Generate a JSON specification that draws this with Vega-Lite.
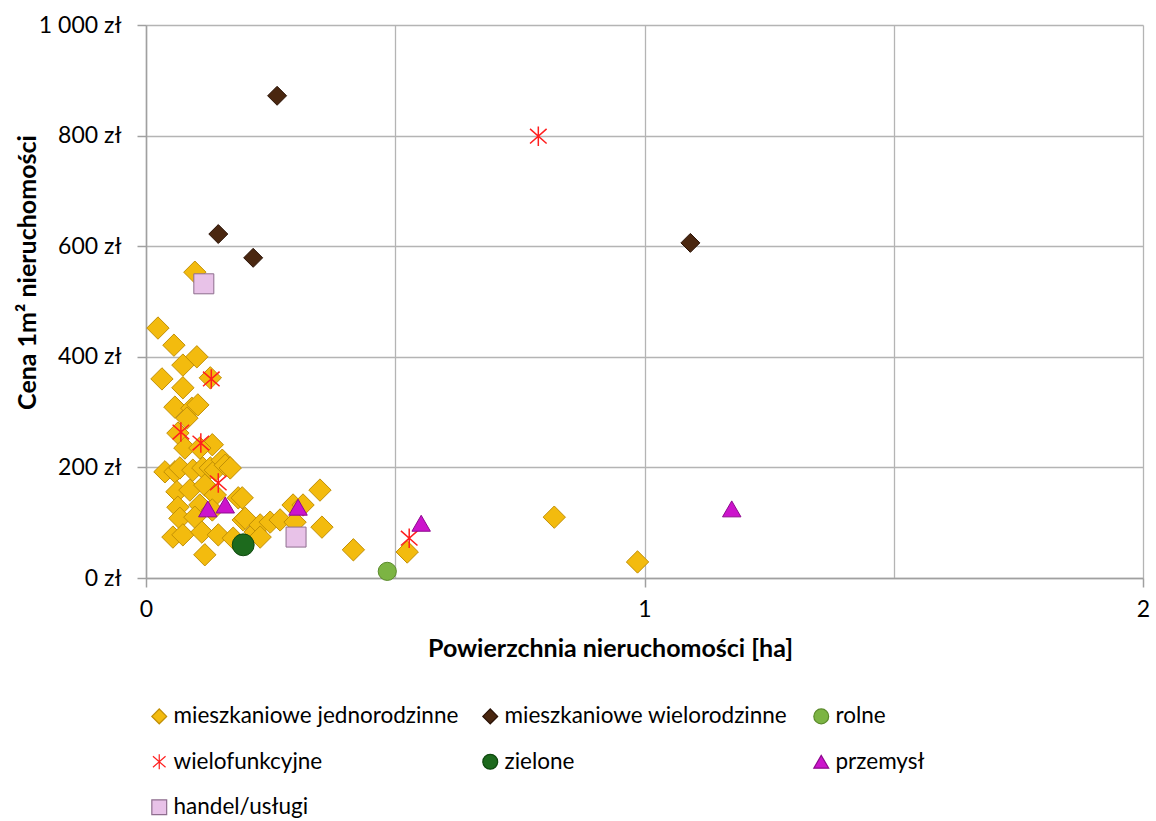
{
  "$schema": "https://vega.github.io/schema/vega-lite/v6.json",
  "autosize": "none",
  "width": 997,
  "height": 553,
  "padding": {"left": 146, "top": 25, "right": 13, "bottom": 243},
  "background": "white",
  "config": {
    "font": "Lato",
    "view": {"stroke": null},
    "legend": {
      "title": null,
      "orient": "none",
      "legendX": 2,
      "legendY": 680,
      "columns": 3,
      "direction": "horizontal",
      "gridAlign": "all",
      "columnPadding": 20,
      "rowPadding": 22.5,
      "labelFont": "Lato",
      "labelFontSize": 22.5,
      "labelColor": "#000000",
      "labelOffset": 3,
      "symbolSize": 220,
      "symbolStrokeWidth": 1.2,
      "labelLimit": 400
    }
  },
  "data": {
    "values": [
      {"powierzchnia": 0.024, "cena": 452, "typ": "mieszkaniowe jednorodzinne"},
      {"powierzchnia": 0.056, "cena": 421, "typ": "mieszkaniowe jednorodzinne"},
      {"powierzchnia": 0.098, "cena": 553, "typ": "mieszkaniowe jednorodzinne"},
      {"powierzchnia": 0.032, "cena": 360, "typ": "mieszkaniowe jednorodzinne"},
      {"powierzchnia": 0.074, "cena": 385, "typ": "mieszkaniowe jednorodzinne"},
      {"powierzchnia": 0.102, "cena": 400, "typ": "mieszkaniowe jednorodzinne"},
      {"powierzchnia": 0.074, "cena": 344, "typ": "mieszkaniowe jednorodzinne"},
      {"powierzchnia": 0.129, "cena": 362, "typ": "mieszkaniowe jednorodzinne"},
      {"powierzchnia": 0.058, "cena": 309, "typ": "mieszkaniowe jednorodzinne"},
      {"powierzchnia": 0.092, "cena": 307, "typ": "mieszkaniowe jednorodzinne"},
      {"powierzchnia": 0.104, "cena": 313, "typ": "mieszkaniowe jednorodzinne"},
      {"powierzchnia": 0.082, "cena": 289, "typ": "mieszkaniowe jednorodzinne"},
      {"powierzchnia": 0.064, "cena": 262, "typ": "mieszkaniowe jednorodzinne"},
      {"powierzchnia": 0.078, "cena": 235, "typ": "mieszkaniowe jednorodzinne"},
      {"powierzchnia": 0.133, "cena": 241, "typ": "mieszkaniowe jednorodzinne"},
      {"powierzchnia": 0.108, "cena": 235, "typ": "mieszkaniowe jednorodzinne"},
      {"powierzchnia": 0.038, "cena": 192, "typ": "mieszkaniowe jednorodzinne"},
      {"powierzchnia": 0.058, "cena": 192, "typ": "mieszkaniowe jednorodzinne"},
      {"powierzchnia": 0.068, "cena": 199, "typ": "mieszkaniowe jednorodzinne"},
      {"powierzchnia": 0.094, "cena": 195, "typ": "mieszkaniowe jednorodzinne"},
      {"powierzchnia": 0.114, "cena": 199, "typ": "mieszkaniowe jednorodzinne"},
      {"powierzchnia": 0.129, "cena": 199, "typ": "mieszkaniowe jednorodzinne"},
      {"powierzchnia": 0.139, "cena": 195, "typ": "mieszkaniowe jednorodzinne"},
      {"powierzchnia": 0.153, "cena": 213, "typ": "mieszkaniowe jednorodzinne"},
      {"powierzchnia": 0.159, "cena": 204, "typ": "mieszkaniowe jednorodzinne"},
      {"powierzchnia": 0.169, "cena": 199, "typ": "mieszkaniowe jednorodzinne"},
      {"powierzchnia": 0.062, "cena": 156, "typ": "mieszkaniowe jednorodzinne"},
      {"powierzchnia": 0.088, "cena": 159, "typ": "mieszkaniowe jednorodzinne"},
      {"powierzchnia": 0.118, "cena": 168, "typ": "mieszkaniowe jednorodzinne"},
      {"powierzchnia": 0.185, "cena": 145, "typ": "mieszkaniowe jednorodzinne"},
      {"powierzchnia": 0.064, "cena": 128, "typ": "mieszkaniowe jednorodzinne"},
      {"powierzchnia": 0.108, "cena": 132, "typ": "mieszkaniowe jednorodzinne"},
      {"powierzchnia": 0.068, "cena": 108, "typ": "mieszkaniowe jednorodzinne"},
      {"powierzchnia": 0.098, "cena": 110, "typ": "mieszkaniowe jednorodzinne"},
      {"powierzchnia": 0.054, "cena": 74, "typ": "mieszkaniowe jednorodzinne"},
      {"powierzchnia": 0.074, "cena": 78, "typ": "mieszkaniowe jednorodzinne"},
      {"powierzchnia": 0.112, "cena": 83, "typ": "mieszkaniowe jednorodzinne"},
      {"powierzchnia": 0.145, "cena": 78, "typ": "mieszkaniowe jednorodzinne"},
      {"powierzchnia": 0.175, "cena": 72, "typ": "mieszkaniowe jednorodzinne"},
      {"powierzchnia": 0.195, "cena": 105, "typ": "mieszkaniowe jednorodzinne"},
      {"powierzchnia": 0.118, "cena": 42, "typ": "mieszkaniowe jednorodzinne"},
      {"powierzchnia": 0.219, "cena": 83, "typ": "mieszkaniowe jednorodzinne"},
      {"powierzchnia": 0.193, "cena": 145, "typ": "mieszkaniowe jednorodzinne"},
      {"powierzchnia": 0.199, "cena": 108, "typ": "mieszkaniowe jednorodzinne"},
      {"powierzchnia": 0.229, "cena": 96, "typ": "mieszkaniowe jednorodzinne"},
      {"powierzchnia": 0.249, "cena": 101, "typ": "mieszkaniowe jednorodzinne"},
      {"powierzchnia": 0.269, "cena": 105, "typ": "mieszkaniowe jednorodzinne"},
      {"powierzchnia": 0.229, "cena": 74, "typ": "mieszkaniowe jednorodzinne"},
      {"powierzchnia": 0.295, "cena": 132, "typ": "mieszkaniowe jednorodzinne"},
      {"powierzchnia": 0.315, "cena": 132, "typ": "mieszkaniowe jednorodzinne"},
      {"powierzchnia": 0.299, "cena": 101, "typ": "mieszkaniowe jednorodzinne"},
      {"powierzchnia": 0.349, "cena": 159, "typ": "mieszkaniowe jednorodzinne"},
      {"powierzchnia": 0.353, "cena": 92, "typ": "mieszkaniowe jednorodzinne"},
      {"powierzchnia": 0.416, "cena": 51, "typ": "mieszkaniowe jednorodzinne"},
      {"powierzchnia": 0.524, "cena": 47, "typ": "mieszkaniowe jednorodzinne"},
      {"powierzchnia": 0.819, "cena": 110, "typ": "mieszkaniowe jednorodzinne"},
      {"powierzchnia": 0.986, "cena": 29, "typ": "mieszkaniowe jednorodzinne"},
      {"powierzchnia": 0.139, "cena": 150, "typ": "mieszkaniowe jednorodzinne"},
      {"powierzchnia": 0.133, "cena": 123, "typ": "mieszkaniowe jednorodzinne"},
      {"powierzchnia": 0.263, "cena": 872, "typ": "mieszkaniowe wielorodzinne"},
      {"powierzchnia": 0.145, "cena": 622, "typ": "mieszkaniowe wielorodzinne"},
      {"powierzchnia": 0.215, "cena": 579, "typ": "mieszkaniowe wielorodzinne"},
      {"powierzchnia": 1.092, "cena": 606, "typ": "mieszkaniowe wielorodzinne"},
      {"powierzchnia": 0.484, "cena": 12, "typ": "rolne"},
      {"powierzchnia": 0.787, "cena": 799, "typ": "wielofunkcyjne"},
      {"powierzchnia": 0.131, "cena": 360, "typ": "wielofunkcyjne"},
      {"powierzchnia": 0.070, "cena": 264, "typ": "wielofunkcyjne"},
      {"powierzchnia": 0.110, "cena": 244, "typ": "wielofunkcyjne"},
      {"powierzchnia": 0.145, "cena": 172, "typ": "wielofunkcyjne"},
      {"powierzchnia": 0.528, "cena": 72, "typ": "wielofunkcyjne"},
      {"powierzchnia": 0.195, "cena": 60, "typ": "zielone"},
      {"powierzchnia": 0.124, "cena": 125, "typ": "przemysł"},
      {"powierzchnia": 0.159, "cena": 132, "typ": "przemysł"},
      {"powierzchnia": 0.305, "cena": 128, "typ": "przemysł"},
      {"powierzchnia": 0.552, "cena": 99, "typ": "przemysł"},
      {"powierzchnia": 1.175, "cena": 125, "typ": "przemysł"},
      {"powierzchnia": 0.116, "cena": 532, "typ": "handel/usługi"},
      {"powierzchnia": 0.301, "cena": 74, "typ": "handel/usługi"}
    ]
  },
  "encoding": {
    "x": {
      "field": "powierzchnia",
      "type": "quantitative",
      "scale": {"domain": [0, 2], "nice": false, "zero": false},
      "axis": {
        "values": [0, 0.5, 1, 1.5, 2],
        "title": "Powierzchnia nieruchomości [ha]",
        "titleFont": "Lato",
        "titleFontSize": 25,
        "titleFontWeight": "bold",
        "titleColor": "#000000",
        "titleX": 464,
        "titleY": 70,
        "titleBaseline": "middle",
        "titleAlign": "center",
        "labelFont": "Lato",
        "labelFontSize": 23,
        "labelColor": "#000000",
        "labelPadding": 11,
        "labelExpr": "datum.value % 1 == 0 ? format(datum.value, 'd') : ''",
        "labelFlush": false,
        "labelOverlap": false,
        "tickSize": 9,
        "tickColor": "#a0a0a0",
        "tickWidth": 1.5,
        "tickOpacity": {"condition": {"test": "datum.value % 1 != 0", "value": 0}, "value": 1},
        "domainColor": "#a0a0a0",
        "domainWidth": 1.5,
        "grid": true,
        "gridColor": "#b4b4b4",
        "gridWidth": 1.3
      }
    },
    "y": {
      "field": "cena",
      "type": "quantitative",
      "scale": {"domain": [0, 1000], "nice": false},
      "axis": {
        "values": [0, 200, 400, 600, 800, 1000],
        "title": "Cena 1m² nieruchomości",
        "titleFont": "Lato",
        "titleFontSize": 25,
        "titleFontWeight": "bold",
        "titleColor": "#000000",
        "titleAngle": -90,
        "titleX": -119,
        "titleY": 247,
        "titleAlign": "center",
        "titleBaseline": "middle",
        "labelFont": "Lato",
        "labelFontSize": 23,
        "labelColor": "#000000",
        "labelPadding": 16,
        "labelExpr": "replace(format(datum.value, ','), ',', ' ') + ' zł'",
        "tickSize": 9,
        "tickColor": "#a0a0a0",
        "tickWidth": 1.5,
        "domainColor": "#a0a0a0",
        "domainWidth": 1.5,
        "grid": true,
        "gridColor": "#b4b4b4",
        "gridWidth": 1.3
      }
    },
    "fill": {
      "field": "typ",
      "type": "nominal",
      "scale": {
        "domain": ["mieszkaniowe jednorodzinne", "mieszkaniowe wielorodzinne", "rolne", "wielofunkcyjne", "zielone", "przemysł", "handel/usługi"],
        "range": ["#F3BB0E", "#4A2710", "#7CB443", "#FF1E1E", "#1D6A1D", "#CC14CC", "#E8C2E8"]
      }
    },
    "stroke": {
      "field": "typ",
      "type": "nominal",
      "scale": {
        "domain": ["mieszkaniowe jednorodzinne", "mieszkaniowe wielorodzinne", "rolne", "wielofunkcyjne", "zielone", "przemysł", "handel/usługi"],
        "range": ["#C18F06", "#2A1206", "#5A8A2A", "#FF1E1E", "#0F4A0F", "#8E0A8E", "#8E6E8E"]
      }
    },
    "shape": {
      "field": "typ",
      "type": "nominal",
      "scale": {
        "domain": ["mieszkaniowe jednorodzinne", "mieszkaniowe wielorodzinne", "rolne", "wielofunkcyjne", "zielone", "przemysł", "handel/usługi"],
        "range": ["diamond", "diamond", "circle", "M0,-1L0,1M-0.85,-0.75L0.85,0.75M-0.85,0.75L0.85,-0.75", "circle", "triangle-up", "square"]
      }
    }
  },
  "layer": [
    {"transform": [{"filter": "datum.typ == 'mieszkaniowe jednorodzinne'"}], "mark": {"type": "point", "filled": true, "strokeWidth": 1, "opacity": 1, "size": 500}},
    {"transform": [{"filter": "datum.typ == 'mieszkaniowe wielorodzinne'"}], "mark": {"type": "point", "filled": true, "strokeWidth": 1, "opacity": 1, "size": 360}},
    {"transform": [{"filter": "datum.typ == 'rolne'"}], "mark": {"type": "point", "filled": true, "strokeWidth": 1, "opacity": 1, "size": 330}},
    {"transform": [{"filter": "datum.typ == 'wielofunkcyjne'"}], "mark": {"type": "point", "filled": true, "strokeWidth": 1.5, "opacity": 1, "size": 380}},
    {"transform": [{"filter": "datum.typ == 'zielone'"}], "mark": {"type": "point", "filled": true, "strokeWidth": 1, "opacity": 1, "size": 480}},
    {"transform": [{"filter": "datum.typ == 'przemysł'"}], "mark": {"type": "point", "filled": true, "strokeWidth": 1, "opacity": 1, "size": 340}},
    {"transform": [{"filter": "datum.typ == 'handel/usługi'"}], "mark": {"type": "point", "filled": true, "strokeWidth": 1, "opacity": 1, "size": 400}}
  ]
}
